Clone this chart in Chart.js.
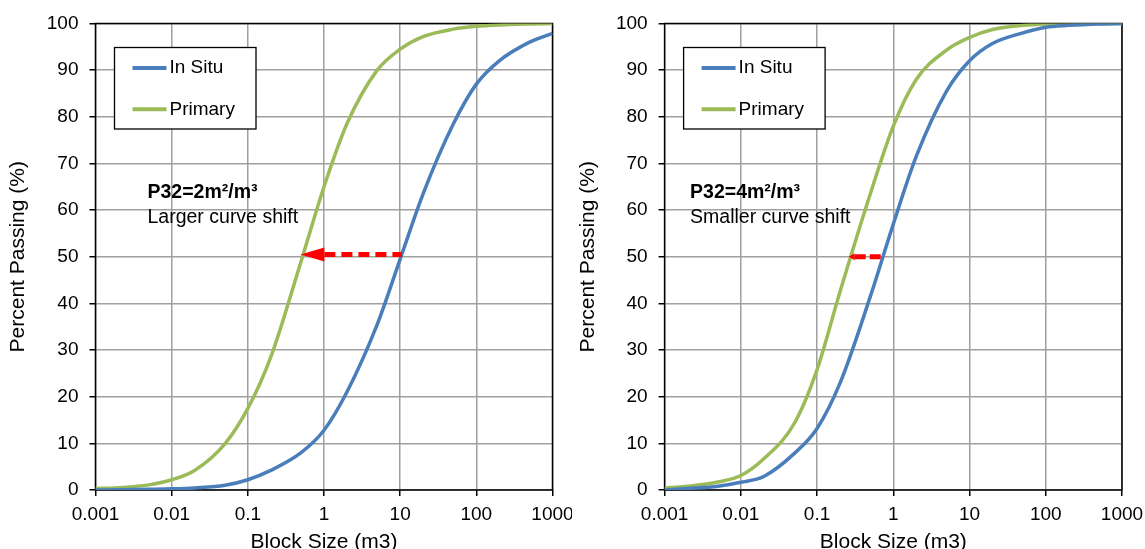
<!DOCTYPE html>
<html>
<head>
<meta charset="utf-8">
<title>Block size distribution</title>
<script src="https://cdn.jsdelivr.net/npm/chart.js@4.4.0/dist/chart.umd.min.js"></script>
<style>
  html, body { margin: 0; padding: 0; background: #fff; }
  .row { display: flex; width: 1145px; height: 549px; overflow: hidden; }
  canvas { display: block; }
</style>
</head>
<body>
<div class="row">
  <canvas id="leftChart" width="572" height="549"></canvas>
  <canvas id="rightChart" width="573" height="549"></canvas>
</div>
<script>
// Data
const blockSizes = [0.001, 0.002, 0.005, 0.01, 0.02, 0.05, 0.1, 0.2, 0.5, 1, 2, 5, 10, 20, 50, 100, 200, 500, 1000];

// P32 = 2 m2/m3
const leftInSitu = [0, 0.05, 0.15, 0.25, 0.45, 1.0, 2.2, 4.2, 8.0, 12.8, 21, 35.5, 49.5, 63.5, 78.5, 87, 92, 96, 97.9];
const leftPrimary = [0.3, 0.5, 1.1, 2.2, 4.2, 9.9, 17.5, 28.5, 49, 65, 78.5, 90, 94.5, 97.2, 98.8, 99.4, 99.7, 99.9, 100];

// P32 = 4 m2/m3
const rightInSitu = [0, 0.3, 0.8, 1.65, 2.9, 7.8, 13.2, 22.9, 41.5, 57, 71.5, 85.5, 92, 95.7, 98, 99.2, 99.6, 99.9, 100];
const rightPrimary = [0.4, 0.8, 1.7, 3.1, 6.7, 14.2, 25.8, 42.5, 63.5, 78, 88, 94.3, 97, 98.7, 99.6, 99.9, 100, 100, 100];

const seriesNames = ['In Situ', 'Primary'];
const xTickValues = [0.001, 0.01, 0.1, 1, 10, 100, 1000];
const xTickLabels = ['0.001', '0.01', '0.1', '1', '10', '100', '1000'];

// arrows: from In Situ d50 to Primary d50
const leftArrow = { from: 10.5, to: 0.49, y: 50.5 };
const rightArrow = { from: 0.73, to: 0.26, y: 50 };

const leftNote = ['P32=2m\u00b2/m\u00b3', 'Larger curve shift'];
const rightNote = ['P32=4m\u00b2/m\u00b3', 'Smaller curve shift'];

const COLORS = ['#4a7ebb', '#9bbb59'];
const FONT = 'Liberation Sans, Arial, Helvetica, sans-serif';

Chart.defaults.font.family = FONT;
Chart.defaults.color = '#000';

// legend box, note text, arrow and plot frame
const decorPlugin = {
  id: 'decor',
  beforeDatasetsDraw(chart) {
    const { ctx, chartArea: a } = chart;
    ctx.save();
    ctx.strokeStyle = '#000';
    ctx.lineWidth = 1.5;
    ctx.strokeRect(a.left, a.top, a.right - a.left, a.bottom - a.top);
    ctx.restore();
  },
  afterDatasetsDraw(chart, args, opts) {
    const { ctx, chartArea: a } = chart;
    const xs = chart.scales.x;
    const ys = chart.scales.y;
    ctx.save();

    // legend
    const bx = a.left + 19, by = a.top + 24, bw = 141.5, bh = 81.5;
    ctx.fillStyle = '#fff';
    ctx.fillRect(bx, by, bw, bh);
    ctx.strokeStyle = '#000';
    ctx.lineWidth = 1.3;
    ctx.strokeRect(bx, by, bw, bh);
    ctx.font = '19px ' + FONT;
    ctx.textBaseline = 'middle';
    ctx.textAlign = 'left';
    chart.data.datasets.forEach((ds, i) => {
      const ly = by + 20.5 + i * 41.3;
      ctx.strokeStyle = ds.borderColor;
      ctx.lineWidth = 4;
      ctx.beginPath();
      ctx.moveTo(bx + 18, ly);
      ctx.lineTo(bx + 52, ly);
      ctx.stroke();
      ctx.fillStyle = '#000';
      ctx.fillText(ds.label, bx + 55, ly);
    });

    // note
    ctx.textBaseline = 'alphabetic';
    ctx.fillStyle = '#000';
    ctx.font = 'bold 19.5px ' + FONT;
    ctx.fillText(opts.note[0], a.left + opts.noteX, 197.5);
    ctx.font = '19.5px ' + FONT;
    ctx.fillText(opts.note[1], a.left + opts.noteX, 222.5);

    // arrow
    const x0 = xs.getPixelForValue(opts.arrow.from);
    const x1 = xs.getPixelForValue(opts.arrow.to);
    const y = ys.getPixelForValue(opts.arrow.y);
    ctx.strokeStyle = '#ff0000';
    ctx.fillStyle = '#ff0000';
    ctx.lineWidth = 5;
    ctx.setLineDash(opts.dash);
    ctx.beginPath();
    ctx.moveTo(x1 + opts.headLen, y);
    ctx.lineTo(x0, y);
    ctx.stroke();
    ctx.setLineDash([]);
    ctx.beginPath();
    ctx.moveTo(x1, y);
    ctx.lineTo(x1 + opts.headLen, y - opts.headHalf);
    ctx.lineTo(x1 + opts.headLen, y + opts.headHalf);
    ctx.closePath();
    ctx.fill();

    ctx.restore();
  }
};

function makeChart(id, inSitu, primary, cfg) {
  const ctx = document.getElementById(id);
  return new Chart(ctx, {
    type: 'line',
    data: {
      labels: blockSizes,
      datasets: [inSitu, primary].map((vals, i) => ({
        label: seriesNames[i],
        data: blockSizes.map((s, j) => ({ x: s, y: vals[j] })),
        borderColor: COLORS[i],
        backgroundColor: COLORS[i],
        borderWidth: 3.5,
        pointRadius: 0,
        cubicInterpolationMode: 'monotone',
        fill: false,
      })),
    },
    options: {
      responsive: false,
      animation: false,
      layout: { padding: { top: 23.5, right: cfg.padRight, left: 0, bottom: 0 } },
      plugins: {
        legend: { display: false },
        tooltip: { enabled: false },
        decor: cfg.decor,
      },
      scales: {
        x: {
          type: 'logarithmic',
          min: 0.001,
          max: 1000,
          afterBuildTicks: (axis) => {
            axis.ticks = xTickValues.map((v) => ({ value: v }));
          },
          afterFit: (scale) => {
            scale.height = 59;
            scale.paddingLeft = 0;
            scale.paddingRight = 0;
          },
          ticks: {
            autoSkip: false,
            maxRotation: 0,
            padding: 7,
            font: { size: 19 },
            callback: (value) => xTickLabels[xTickValues.indexOf(value)],
          },
          grid: { color: '#a0a0a0', lineWidth: 1.5, tickColor: '#000', tickLength: 6 },
          border: { display: false },
          title: {
            display: true,
            text: 'Block Size (m3)',
            font: { size: 21 },
            padding: { top: 0, bottom: -6 },
          },
        },
        y: {
          min: 0,
          max: 100,
          afterFit: (scale) => { scale.width = cfg.yWidth; },
          ticks: { stepSize: 10, padding: 11, font: { size: 19 } },
          grid: { color: '#a0a0a0', lineWidth: 1.5, tickColor: '#000', tickLength: 6 },
          border: { display: false },
          title: {
            display: true,
            text: 'Percent Passing (%)',
            font: { size: 21 },
            padding: { top: cfg.titlePad, bottom: 0 },
          },
        },
      },
    },
    plugins: [decorPlugin],
  });
}

makeChart('leftChart', leftInSitu, leftPrimary, {
  padRight: 19.5,
  yWidth: 95.5,
  titlePad: 5.4,
  decor: { note: leftNote, noteX: 52, arrow: leftArrow, dash: [11, 6], headLen: 24, headHalf: 7 },
});

makeChart('rightChart', rightInSitu, rightPrimary, {
  padRight: 23,
  yWidth: 92.6,
  titlePad: 3.6,
  decor: { note: rightNote, noteX: 25.5, arrow: rightArrow, dash: [11, 4], headLen: 6, headHalf: 3.5 },
});
</script>
</body>
</html>
